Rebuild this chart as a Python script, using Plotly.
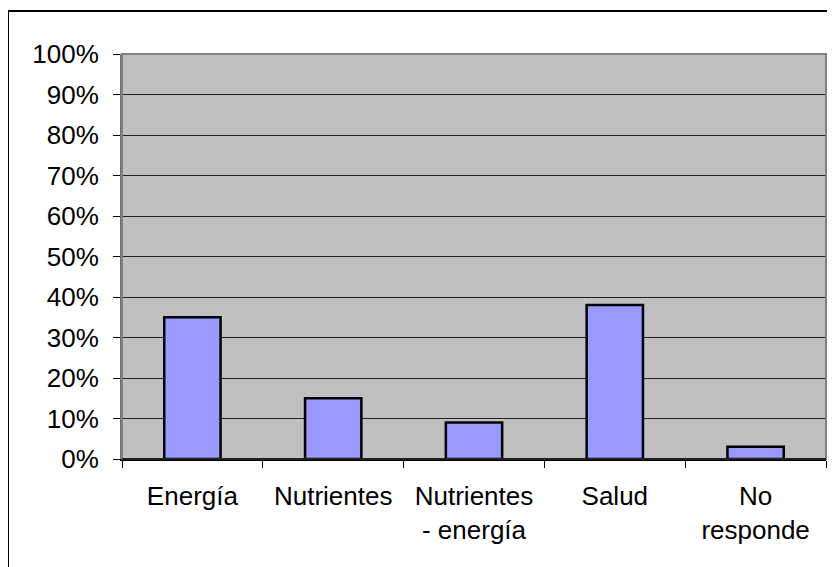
import plotly.graph_objects as go

categories = ["Energía", "Nutrientes", "Nutrientes<br>- energía", "Salud", "No<br>responde"]
values = [35, 15, 9, 38, 3]
y_ticks = [0, 10, 20, 30, 40, 50, 60, 70, 80, 90, 100]
y_labels = [f"{v}%" for v in y_ticks]

FONT = "Liberation Sans, Arial, sans-serif"

fig = go.Figure()
fig.add_trace(go.Bar(
    x=categories, y=values,
    marker=dict(color="#9999FF", line=dict(color="black", width=2.5)),
    width=0.4,
))
# invisible trace to carry boundary ticks on secondary axis
fig.add_trace(go.Scatter(x=[-0.5, 4.5], y=[0, 0], xaxis="x2", mode="lines",
                         line=dict(width=0), hoverinfo="skip", showlegend=False))

fig.update_layout(
    width=827, height=559,
    margin=dict(l=114, r=9, t=46, b=108),
    paper_bgcolor="white",
    plot_bgcolor="#C0C0C0",
    showlegend=False,
    font=dict(family=FONT, color="black"),
    xaxis=dict(
        type="category", range=[-0.5, 4.5],
        ticks="", showgrid=False, zeroline=False,
        showline=False,
        tickfont=dict(size=26, family=FONT, color="black"),
        ticklabelstandoff=19,
    ),
    xaxis2=dict(
        overlaying="x", type="linear", range=[-0.5, 4.5],
        tickvals=[-0.5, 0.5, 1.5, 2.5, 3.5, 4.5],
        showticklabels=False, ticks="outside", ticklen=7, tickwidth=1, tickcolor="black",
        showline=True, linecolor="black", linewidth=1.5,
        showgrid=False, zeroline=False, side="bottom", anchor="y",
    ),
    yaxis=dict(
        range=[0, 100], tickvals=y_ticks, ticktext=y_labels,
        ticks="outside", ticklen=7, tickwidth=1, tickcolor="black",
        showgrid=True, gridcolor="#202020", gridwidth=1,
        zeroline=False, showline=True, linecolor="#707070", linewidth=2,
        tickfont=dict(size=26, family=FONT, color="black"),
        ticklabelstandoff=9,
    ),
    shapes=[
        dict(type="rect", xref="paper", yref="paper", x0=0, x1=1, y0=0, y1=1,
             line=dict(color="#808080", width=2), fillcolor="rgba(0,0,0,0)", layer="above"),
        dict(type="line", xref="paper", yref="paper", x0=0, x1=1, y0=0, y1=0,
             line=dict(color="black", width=1.5), layer="above"),
        dict(type="rect", xref="paper", yref="paper",
             x0=(8 - 122) / 704, x1=1.1, y0=-0.3, y1=(459 - 11) / 405,
             line=dict(color="black", width=2), fillcolor="rgba(0,0,0,0)"),
    ],
)

fig.write_html("out.html")
